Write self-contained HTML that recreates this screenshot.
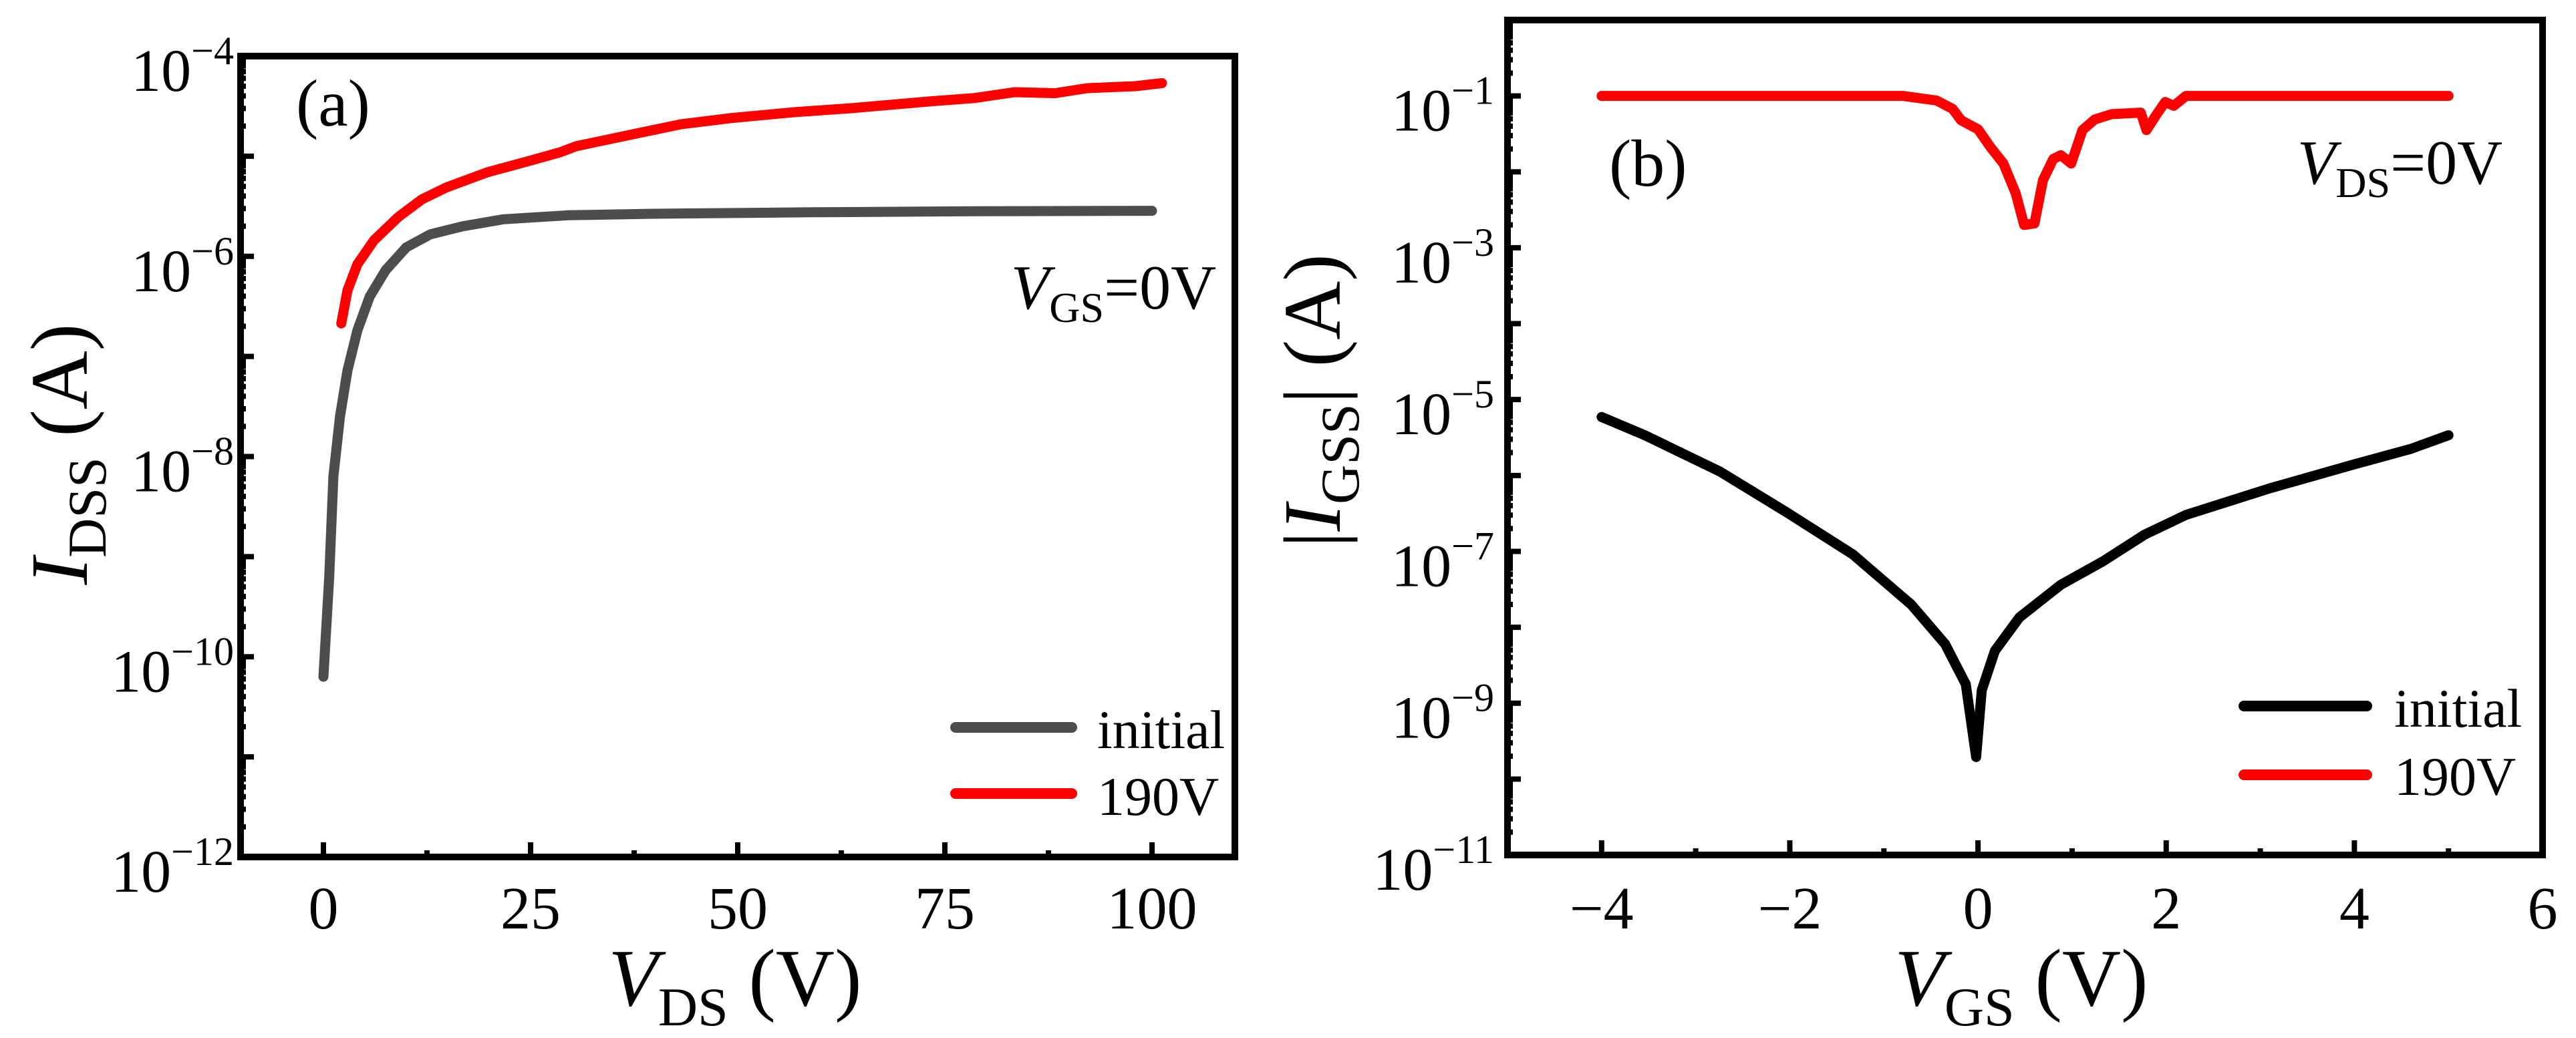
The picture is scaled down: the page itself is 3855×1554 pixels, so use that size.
<!DOCTYPE html>
<html><head><meta charset="utf-8"><style>
html,body{margin:0;padding:0;background:#fff;}
svg{display:block;font-family:"Liberation Serif","DejaVu Serif",serif;}
</style></head><body>
<svg id="fig" width="3855" height="1554" viewBox="0 0 3855 1554" xmlns="http://www.w3.org/2000/svg">
<g id="panelA"></g>
<g id="panelB"></g>
</svg>
<script>
// ---- Panel (a) data: V_DS (V) vs log10(I_DSS) ----
const aInitialX = [0,0.7,1.2,2.0,2.9,4.1,5.6,7.5,10,12.9,16.8,21.7,29.5,39.3,59,78.5,100];
const aInitialLog = [-10.2,-9.2,-8.2,-7.6,-7.14,-6.74,-6.4,-6.14,-5.91,-5.78,-5.70,-5.63,-5.59,-5.575,-5.56,-5.55,-5.545];
const a190X = [2.15,2.9,4.1,6.1,9.0,11.9,14.9,19.8,24.7,28.6,30.5,37.4,43.2,49.1,56.9,63.8,73.6,78.5,83.4,88.3,92.2,98,101.2];
const a190Log = [-6.67,-6.34,-6.08,-5.84,-5.61,-5.43,-5.31,-5.16,-5.05,-4.96,-4.90,-4.78,-4.68,-4.62,-4.56,-4.52,-4.45,-4.42,-4.36,-4.37,-4.32,-4.30,-4.27];
const aXTicks = [0,25,50,75,100];
const aYTicks = [-12,-10,-8,-6,-4];

// ---- Panel (b) data: V_GS (V) vs log10(|I_GSS|) ----
const bInitialX = [-4,-3.54,-2.74,-2.04,-1.33,-0.71,-0.35,-0.13,-0.02,0.04,0.18,0.44,0.88,1.33,1.77,2.21,3.10,3.98,4.60,5.0];
const bInitialLog = [-5.23,-5.47,-5.95,-6.48,-7.04,-7.70,-8.22,-8.75,-9.71,-8.83,-8.31,-7.87,-7.44,-7.13,-6.78,-6.52,-6.17,-5.86,-5.65,-5.47];
const b190X = [-4,-0.80,-0.44,-0.27,-0.18,0,0.13,0.27,0.40,0.49,0.60,0.69,0.80,0.88,0.99,1.11,1.24,1.42,1.73,1.79,1.90,1.99,2.08,2.21,5.0];
const b190Log = [-1,-1,-1.06,-1.17,-1.32,-1.44,-1.67,-1.89,-2.28,-2.70,-2.68,-2.11,-1.83,-1.78,-1.89,-1.45,-1.31,-1.24,-1.22,-1.45,-1.24,-1.08,-1.13,-1.0,-1.0];
const bXTicks = [-4,-2,0,2,4,6];
const bYTicks = [-11,-9,-7,-5,-3,-1];

const NS = "http://www.w3.org/2000/svg";
function mk(tag, attrs, parent){
  const e = document.createElementNS(NS, tag);
  for (const k in attrs) e.setAttribute(k, attrs[k]);
  parent.appendChild(e);
  return e;
}
function fmtNum(v){ return v < 0 ? "\u2212" + Math.abs(v) : String(v); }

function drawPanel(g, c){
  const sx = v => c.L + (v - c.xmin) / (c.xmax - c.xmin) * (c.R - c.L);
  const sy = v => c.B - (v - c.ymin) / (c.ymax - c.ymin) * (c.B - c.T);
  c.series.forEach(s => {
    let d = "";
    s.x.forEach((xv, i) => { d += (i ? "L" : "M") + sx(xv).toFixed(1) + "," + sy(s.y[i]).toFixed(1); });
    const p = mk("path", {d:d, fill:"none", stroke:s.color, "stroke-width":15, "stroke-linejoin":"round", "stroke-linecap":"round"}, g);
    
    
  });
  const tg = mk("g", {stroke:"#000", "stroke-width":8}, g);
  
  
  for (let dec = Math.ceil(c.ymin); dec <= Math.floor(c.ymax); dec++){
    const y = sy(dec);
    mk("line", {x1:c.L, x2:c.L+20, y1:y, y2:y}, tg);
    for (let k = 2; k <= 9; k++){
      const yy = sy(dec + Math.log10(k));
      if (yy < c.T + 5) continue;
      mk("line", {x1:c.L, x2:c.L+8, y1:yy, y2:yy}, tg);
    }
  }
  const step = c.xTicks[1] - c.xTicks[0];
  for (let v = c.xTicks[0] - step; v <= c.xmax; v += step/2){
    if (v <= c.xmin + 0.01 || v >= c.xmax - 0.01) continue;
    const x = sx(v);
    const major = c.xTicks.some(t => Math.abs(t - v) < 1e-6);
    mk("line", {x1:x, x2:x, y1:c.B, y2:c.B - (major ? 22 : 10)}, tg);
  }
  const f = mk("rect", {x:c.L, y:c.T, width:c.R-c.L, height:c.B-c.T, fill:"none", stroke:"#000", "stroke-width":10}, g);
  
  
  c.yTicks.forEach(v => {
    const t = mk("text", {x:c.L - c.ylabGap, y:sy(v) + 52, "text-anchor":"end", "font-size":90}, g);
    
    
    const a = mk("tspan", {}, t); a.textContent = "10";
    const b = mk("tspan", {dy:-40, "font-size":60}, t); b.textContent = fmtNum(v);
  });
  c.xTicks.forEach(v => {
    const t = mk("text", {x:sx(v), y:1390, "text-anchor":"middle", "font-size":90}, g);
    
    
    t.textContent = fmtNum(v);
  });
}

const gA = document.getElementById("panelA");
drawPanel(gA, {L:360,R:1848,T:84,B:1283,xmin:-10,xmax:110,ymin:-12,ymax:-4,
  xTicks:aXTicks, yTicks:aYTicks, ylabGap:10,
  series:[{name:"initial-line",color:"#4d4d4d",x:aInitialX,y:aInitialLog},
          {name:"190v-line",color:"#ff0000",x:a190X,y:a190Log}]});
const gB = document.getElementById("panelB");
drawPanel(gB, {L:2256,R:3805,T:30,B:1280,xmin:-5,xmax:6,ymin:-11,ymax:0,
  xTicks:bXTicks, yTicks:bYTicks, ylabGap:20,
  series:[{name:"initial-line",color:"#000000",x:bInitialX,y:bInitialLog},
          {name:"190v-line",color:"#ff0000",x:b190X,y:b190Log}]});
</script>
<svg style="position:absolute;left:0;top:0" width="3855" height="1554" xmlns="http://www.w3.org/2000/svg" font-family="Liberation Serif, DejaVu Serif, serif">
  <text x="443" y="188" font-size="100">(a)</text>
  <text x="1820" y="462" font-size="94" text-anchor="end"><tspan font-style="italic">V</tspan><tspan font-size="64" dy="20">GS</tspan><tspan dy="-20">=0V</tspan></text>
  <text x="1100" y="1505" font-size="122" text-anchor="middle"><tspan font-style="italic">V</tspan><tspan font-size="82" dy="30">DS</tspan><tspan dy="-30"> (V)</tspan></text>
  <text transform="translate(130,680) rotate(-90)" font-size="122" text-anchor="middle"><tspan font-style="italic">I</tspan><tspan font-size="82" dy="28">DSS</tspan><tspan dy="-28"> (A)</tspan></text>
  <line x1="1430" y1="1089" x2="1604" y2="1089" stroke="#4d4d4d" stroke-width="16" stroke-linecap="round"/>
  <text x="1642" y="1120" font-size="82">initial</text>
  <line x1="1430" y1="1188" x2="1604" y2="1188" stroke="#ff0000" stroke-width="16" stroke-linecap="round"/>
  <text x="1642" y="1220" font-size="82">190V</text>
  <text x="2408" y="278" font-size="100">(b)</text>
  <text x="3745" y="275" font-size="94" text-anchor="end"><tspan font-style="italic">V</tspan><tspan font-size="64" dy="20">DS</tspan><tspan dy="-20">=0V</tspan></text>
  <text x="3025" y="1505" font-size="122" text-anchor="middle"><tspan font-style="italic">V</tspan><tspan font-size="82" dy="30">GS</tspan><tspan dy="-30"> (V)</tspan></text>
  <text transform="translate(2005,600) rotate(-90)" font-size="122" text-anchor="middle">|<tspan font-style="italic">I</tspan><tspan font-size="82" dy="28">GSS</tspan><tspan dy="-28">| (A)</tspan></text>
  <line x1="3358" y1="1057" x2="3542" y2="1057" stroke="#000" stroke-width="16" stroke-linecap="round"/>
  <text x="3583" y="1088" font-size="82">initial</text>
  <line x1="3358" y1="1160" x2="3542" y2="1160" stroke="#ff0000" stroke-width="16" stroke-linecap="round"/>
  <text x="3583" y="1190" font-size="82">190V</text>
</svg>
</body></html>
